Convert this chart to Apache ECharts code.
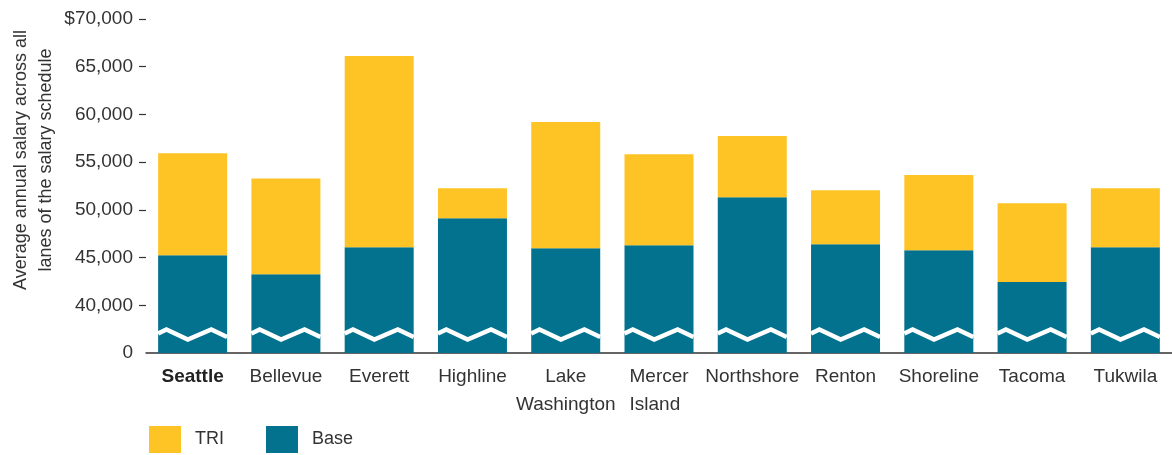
<!DOCTYPE html>
<html>
<head>
<meta charset="utf-8">
<script src="https://cdn.jsdelivr.net/npm/echarts@6/dist/echarts.min.js"></script>
<style>
  html, body { margin: 0; padding: 0; background: #ffffff; }
  #chart { width: 1172px; height: 455px; }
</style>
</head>
<body>
<div id="chart"></div>
<script>
// ---- Data ----
const categories = ['Seattle', 'Bellevue', 'Everett', 'Highline', 'Lake\nWashington', 'Mercer\nIsland',
  'Northshore', 'Renton', 'Shoreline', 'Tacoma', 'Tukwila'];
const baseSalary = [45240, 43250, 46080, 49120, 45980, 46290, 51330, 46400, 45770, 42450, 46080];
const triAmount  = [10700, 10040, 20040, 3150, 13220, 9550, 6400, 5660, 7870, 8250, 6190];
const yTicks = [35000, 40000, 45000, 50000, 55000, 60000, 65000, 70000];
const yTickLabels = ['0', '40,000', '45,000', '50,000', '55,000', '60,000', '65,000', '$70,000'];
const seriesNames = ['TRI', 'Base'];
const yTitle = 'Average annual salary across all\nlanes of the salary schedule';

// ---- Styles ----
const FONT = '"Liberation Sans", Arial, sans-serif';
const TEXT = '#333333';
const YELLOW = '#FEC425';
const TEAL = '#03728F';
const BAR_W = 69;
const BREAK_VALUE = 37000;

const chart = echarts.init(document.getElementById('chart'), null, { renderer: 'canvas' });

function zigzag(params, api) {
  const c = api.coord([api.value(0), api.value(1)]);
  const x0 = c[0] - BAR_W / 2;
  const rel = [0, 0.12, 0.43, 0.77, 1.0];
  const dy = [-0.4, -4.4, 5.6, -4.4, 3.1];
  const pts = rel.map((r, i) => [x0 + r * BAR_W, c[1] + dy[i]]);
  return {
    type: 'polyline',
    shape: { points: pts },
    style: { stroke: '#ffffff', lineWidth: 4.5, fill: null, lineJoin: 'miter' }
  };
}

chart.setOption({
  animation: false,
  textStyle: { fontFamily: FONT },
  grid: { left: 146, right: -1, top: 19, bottom: 102, containLabel: false },
  legend: {
    data: seriesNames,
    left: 149, top: 426,
    padding: 0,
    icon: 'rect',
    itemWidth: 32, itemHeight: 27, itemGap: 42,
    selectedMode: false,
    textStyle: { fontFamily: FONT, fontSize: 18, color: TEXT, padding: [0, 0, 0, 9] }
  },
  graphic: [{
    type: 'text',
    x: 34, y: 160,
    rotation: Math.PI / 2,
    style: {
      text: yTitle,
      font: '18px ' + FONT,
      fill: TEXT,
      align: 'center',
      verticalAlign: 'middle',
      lineHeight: 25
    }
  }],
  xAxis: {
    type: 'category',
    data: categories,
    axisLine: { lineStyle: { color: TEXT, width: 1.5 } },
    axisTick: { show: false },
    axisLabel: {
      interval: 0,
      margin: 10,
      fontFamily: FONT,
      fontSize: 19,
      lineHeight: 28,
      color: TEXT,
      formatter: function (v) {
        if (v === 'Seattle') return '{b|' + v + '}';
        if (v === 'Mercer\nIsland') return v.split('\n').map(s => '{l|' + s + '}').join('\n');
        return v;
      },
      rich: {
        b: { fontFamily: FONT, fontSize: 19, fontWeight: 'bold', color: '#222', lineHeight: 28 },
        l: { fontFamily: FONT, fontSize: 19, color: TEXT, width: 59, align: 'left', lineHeight: 28 }
      }
    }
  },
  yAxis: {
    type: 'value',
    min: 35000, max: 70000, interval: 5000,
    axisLine: { show: false },
    axisTick: { show: true, length: 7, customValues: yTicks.slice(1), lineStyle: { color: TEXT, width: 1.2 } },
    splitLine: { show: false },
    axisLabel: {
      margin: 13,
      fontFamily: FONT,
      fontSize: 19,
      color: TEXT,
      formatter: function (v) {
        const i = yTicks.indexOf(v);
        return i >= 0 ? yTickLabels[i] : '';
      }
    }
  },
  series: [
    {
      name: 'Base', type: 'bar', stack: 'salary', barWidth: BAR_W,
      itemStyle: { color: TEAL }, data: baseSalary
    },
    {
      name: 'TRI', type: 'bar', stack: 'salary', barWidth: BAR_W,
      itemStyle: { color: YELLOW }, data: triAmount
    },
    {
      name: 'break', type: 'custom', z: 10, silent: true,
      renderItem: zigzag,
      data: categories.map((c, i) => [i, BREAK_VALUE])
    }
  ]
});
</script>
</body>
</html>
